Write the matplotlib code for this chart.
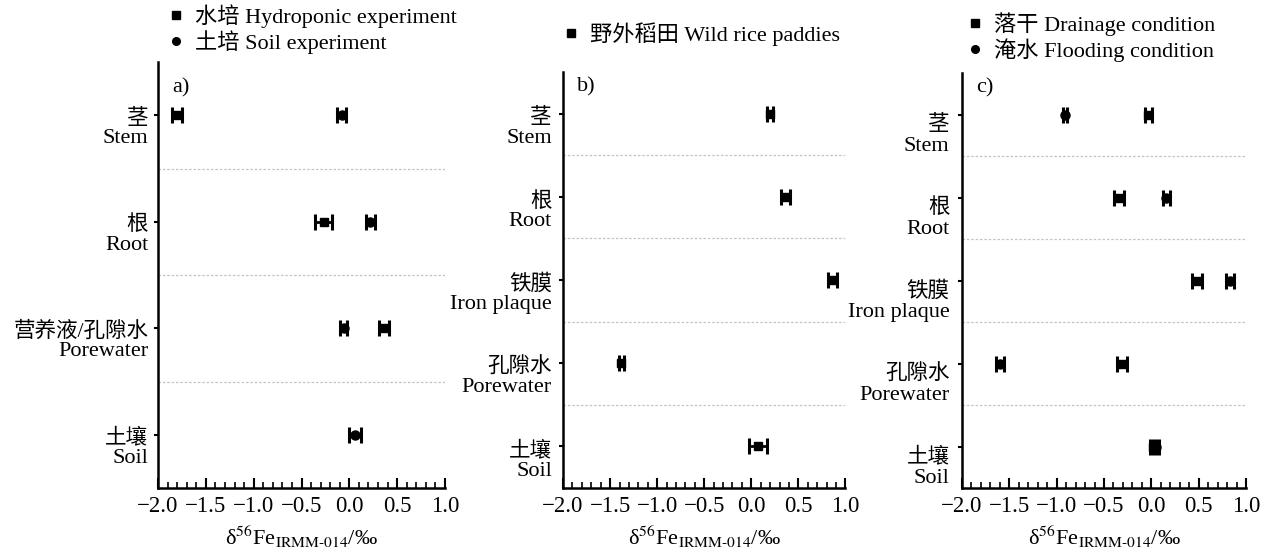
import matplotlib
matplotlib.use('Agg')
import matplotlib.pyplot as plt
import numpy as np
from matplotlib.lines import Line2D
from matplotlib.ticker import MultipleLocator

plt.rcParams['font.family'] = ['Liberation Serif', 'Noto Sans CJK SC']
plt.rcParams['mathtext.fontset'] = 'stix'
plt.rcParams['axes.unicode_minus'] = True

FS = 15.5

# ---------------- data ----------------
# panel a
a_cn = ['茎', '根', '营养液/孔隙水', '土壤']
a_en = ['Stem', 'Root', 'Porewater', 'Soil']
a_hydro = [-1.80, -0.27, 0.36, np.nan]
a_hydro_err = [0.05, 0.09, 0.05, np.nan]
a_soil = [-0.08, 0.22, -0.06, 0.06]
a_soil_err = [0.05, 0.05, 0.04, 0.065]
a_legend = ['水培 Hydroponic experiment', '土培 Soil experiment']

# panel b
b_cn = ['茎', '根', '铁膜', '孔隙水', '土壤']
b_en = ['Stem', 'Root', 'Iron plaque', 'Porewater', 'Soil']
b_wild = [0.20, 0.36, 0.86, -1.38, 0.07]
b_wild_err = [0.03, 0.05, 0.05, 0.03, 0.095]
b_legend = ['野外稻田 Wild rice paddies']

# panel c
c_cn = ['茎', '根', '铁膜', '孔隙水', '土壤']
c_en = ['Stem', 'Root', 'Iron plaque', 'Porewater', 'Soil']
c_drain = [-0.03, -0.34, 0.48, -0.31, 0.02]
c_drain_err = [0.04, 0.05, 0.05, 0.05, 0.03]
c_flood = [-0.91, 0.16, 0.83, -1.60, 0.05]
c_flood_err = [0.02, 0.04, 0.04, 0.04, 0.03]
c_legend = ['落干 Drainage condition', '淹水 Flooding condition']

W, H = 1275, 553
fig = plt.figure(figsize=(W / 100, H / 100), dpi=100)


def fx(px):
    return px / W


def fy(px):
    return 1 - px / H


def make_ax(left, right, top, bottom):
    return fig.add_axes([fx(left), fy(bottom), fx(right - left), (bottom - top) / H])


ax_a = make_ax(158, 445, 62, 488)
ax_b = make_ax(563, 845.5, 72, 488)
ax_c = make_ax(962, 1246, 73, 488)

EB = dict(color='black', capsize=6, capthick=2.2, elinewidth=2.0, linestyle='none')


def plot_series(ax, vals, errs, marker, ms):
    vals = np.asarray(vals, float)
    errs = np.asarray(errs, float)
    y = np.arange(len(vals))
    m = ~np.isnan(vals)
    ax.errorbar(vals[m], y[m], xerr=errs[m], fmt=marker, markersize=ms, **EB)


def style_ax(ax, cn, en, letter, letter_y, cn_dy, en_dy, lab_dx):
    n = len(cn)
    ax.set_xlim(-2.0, 1.0)
    ax.set_ylim(n - 0.5, -0.5)
    for s in ['top', 'right']:
        ax.spines[s].set_visible(False)
    for s in ['left', 'bottom']:
        ax.spines[s].set_linewidth(1.8)
    ax.xaxis.set_major_locator(MultipleLocator(0.5))
    ax.xaxis.set_minor_locator(MultipleLocator(0.1))
    ax.tick_params(axis='x', which='major', direction='in', length=7, width=1.5,
                   labelsize=16.5, pad=6)
    ax.tick_params(axis='x', which='minor', direction='in', length=4, width=1.2)
    ax.set_yticks(np.arange(n))
    ax.set_yticklabels([])
    ax.tick_params(axis='y', direction='out', length=3, width=1.5)
    for k in range(n - 1):
        ax.axhline(k + 0.5, color='#c4c4c4', lw=0.9, ls=(0, (2, 1.5)), zorder=0)
    tr = ax.get_yaxis_transform()
    for i in range(n):
        ax.annotate(cn[i], xy=(0, i), xycoords=tr, xytext=(lab_dx, cn_dy),
                    textcoords='offset points', ha='right', va='baseline',
                    fontsize=FS, annotation_clip=False)
        ax.annotate(en[i], xy=(0, i), xycoords=tr, xytext=(lab_dx, en_dy),
                    textcoords='offset points', ha='right', va='baseline',
                    fontsize=16, annotation_clip=False)
    ax.text(0.05, letter_y, letter, transform=ax.transAxes, ha='left', va='center',
            fontsize=16)
    ax.set_xlabel(r'δ$^{56}$Fe$_{\mathrm{IRMM}\text{-}\mathrm{014}}$/‰', fontsize=16,
                  labelpad=5)


# panel a
plot_series(ax_a, a_hydro, a_hydro_err, 's', 6)
plot_series(ax_a, a_soil, a_soil_err, 'o', 6.5)
style_ax(ax_a, a_cn, a_en, 'a)', 0.94, -6, -20, -7)

# panel b
plot_series(ax_b, b_wild, b_wild_err, 's', 6)
style_ax(ax_b, b_cn, b_en, 'b)', 0.964, -7, -21, -8)

# panel c
plot_series(ax_c, c_drain, c_drain_err, 's', 6)
plot_series(ax_c, c_flood, c_flood_err, 'o', 6.5)
style_ax(ax_c, c_cn, c_en, 'c)', 0.964, -11.5, -26, -9)


def add_legend(ax, labels, markers, x0, ytop):
    handles = [Line2D([], [], color='black', marker=m, linestyle='none', markersize=5.5)
               for m in markers]
    ax.legend(handles, labels, loc='upper left', bbox_to_anchor=(fx(x0), fy(ytop)),
              bbox_transform=fig.transFigure, frameon=False, fontsize=16,
              borderpad=0, borderaxespad=0, handlelength=0.8, handletextpad=0.45,
              labelspacing=0.1)


add_legend(ax_a, a_legend, ['s', 'o'], 167.5, 4)
add_legend(ax_b, b_legend, ['s'], 562.5, 22)
add_legend(ax_c, c_legend, ['s', 'o'], 966.5, 12)

fig.savefig('out.png', dpi=100)
